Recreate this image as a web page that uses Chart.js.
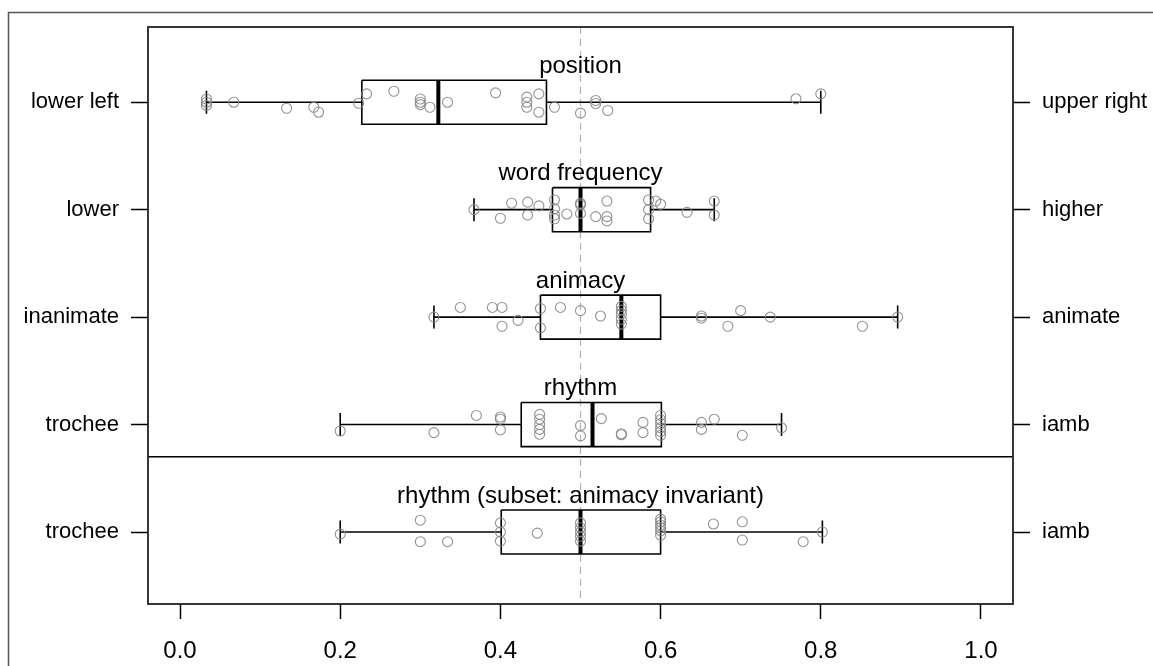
<!DOCTYPE html>
<html>
<head>
<meta charset="utf-8">
<script src="https://cdn.jsdelivr.net/npm/chart.js@4"></script>
<style>
html,body{margin:0;padding:0;background:#fff;}
#wrap{width:1153px;height:666px;position:relative;}
</style>
</head>
<body>
<div id="wrap"><canvas id="c" width="1153" height="666"></canvas></div>
<script>
// ---- data ----
const titles = ['position', 'word frequency', 'animacy', 'rhythm', 'rhythm (subset: animacy invariant)'];
const leftLabels = ['lower left', 'lower', 'inanimate', 'trochee', 'trochee'];
const rightLabels = ['upper right', 'higher', 'animate', 'iamb', 'iamb'];
const xTicks = [0.0, 0.2, 0.4, 0.6, 0.8, 1.0];
const refX = 0.5;
const separatorY = 4.3;

const whiskerLow  = [0.033, 0.367, 0.317, 0.200, 0.200];
const q1          = [0.227, 0.465, 0.450, 0.426, 0.401];
const median      = [0.3225, 0.500, 0.551, 0.515, 0.500];
const q3          = [0.4575, 0.5875, 0.600, 0.601, 0.600];
const whiskerHigh = [0.800, 0.667, 0.896, 0.751, 0.802];

const pointsPosition = [0.033,0.033,0.033,0.067,0.133,0.167,0.173,0.223,0.233,0.267,0.300,0.300,0.300,0.312,0.334,0.394,0.433,0.433,0.433,0.448,0.448,0.4675,0.500,0.519,0.519,0.534,0.769,0.800];
const jitterPosition = [-0.03,0,0.03,0,0.056,0.047,0.093,0.01,-0.078,-0.102,-0.03,0,0.022,0.047,0,-0.087,-0.047,0,0.047,-0.078,0.093,0.047,0.102,-0.016,0.012,0.077,-0.032,-0.078];

const pointsFrequency = [0.367,0.400,0.414,0.434,0.434,0.448,0.4675,0.4675,0.4675,0.4675,0.483,0.500,0.500,0.500,0.519,0.533,0.533,0.533,0.585,0.585,0.585,0.594,0.600,0.633,0.667,0.667];
const jitterFrequency = [0,0.08,-0.06,-0.07,0.05,-0.035,-0.09,-0.01,0.05,0.085,0.04,-0.06,-0.045,0.035,0.065,-0.08,0.065,0.105,-0.09,0,0.085,-0.08,-0.05,0.025,-0.08,0.05];

const pointsAnimacy = [0.317,0.350,0.390,0.402,0.402,0.422,0.450,0.450,0.475,0.500,0.525,0.551,0.551,0.551,0.551,0.551,0.651,0.651,0.684,0.700,0.737,0.852,0.896];
const jitterAnimacy = [0,-0.09,-0.09,-0.09,0.085,0.03,-0.08,0.1,-0.09,-0.06,-0.01,-0.1,-0.065,-0.03,0.02,0.065,-0.01,0.01,0.085,-0.06,0,0.085,0];

const pointsRhythm = [0.200,0.317,0.370,0.400,0.400,0.400,0.449,0.449,0.449,0.449,0.449,0.500,0.500,0.526,0.551,0.551,0.578,0.578,0.600,0.600,0.600,0.600,0.600,0.600,0.651,0.651,0.667,0.702,0.751];
const jitterRhythm = [0.06,0.075,-0.085,-0.07,-0.05,0.05,-0.095,-0.05,0,0.045,0.09,0.01,0.105,-0.055,0.085,0.095,-0.02,0.075,-0.085,-0.045,-0.01,0.03,0.065,0.1,-0.02,0.045,-0.05,0.1,0.03];

const pointsSubset = [0.200,0.300,0.300,0.334,0.400,0.400,0.400,0.446,0.500,0.500,0.500,0.500,0.500,0.600,0.600,0.600,0.600,0.600,0.600,0.666,0.702,0.702,0.778,0.802];
const jitterSubset = [0.02,-0.11,0.09,0.09,-0.085,0,0.085,0.01,-0.085,-0.04,0,0.04,0.085,-0.12,-0.095,-0.065,-0.04,-0.01,0.03,-0.075,-0.095,0.075,0.09,0];

const pointsByRow = [pointsPosition, pointsFrequency, pointsAnimacy, pointsRhythm, pointsSubset];
const jitterByRow = [jitterPosition, jitterFrequency, jitterAnimacy, jitterRhythm, jitterSubset];

// ---- styles ----
const FONT = "'Liberation Sans', Arial, sans-serif";
const BOX_HALF = 0.205;
const STAPLE_HALF = 0.107;
const X_MIN = -0.04, X_MAX = 1.04, Y_MIN = 0.3, Y_MAX = 5.67;

function lineDs(data, width, color, dash) {
  return {data, showLine: true, pointRadius: 0, pointHoverRadius: 0, borderColor: color || '#000',
    borderWidth: width, borderDash: dash || [], fill: false, tension: 0, backgroundColor: 'transparent'};
}

const datasets = [];
// points (on top)
pointsByRow.forEach((pts, i) => {
  datasets.push({
    data: pts.map((v, k) => ({x: v, y: i + 1 + jitterByRow[i][k]})),
    showLine: false, pointRadius: 5, pointHoverRadius: 5, pointStyle: 'circle',
    pointBorderColor: 'rgba(135,135,135,0.9)', pointBackgroundColor: 'rgba(0,0,0,0)', pointBorderWidth: 1.1
  });
});
// medians
median.forEach((m, i) => {
  const y = i + 1;
  datasets.push(lineDs([{x: m, y: y - BOX_HALF}, {x: m, y: y + BOX_HALF}], 4, '#000'));
});
// boxes, whiskers, staples
titles.forEach((t, i) => {
  const y = i + 1;
  datasets.push(lineDs([
    {x: q1[i], y: y - BOX_HALF}, {x: q3[i], y: y - BOX_HALF}, {x: q3[i], y: y + BOX_HALF},
    {x: q1[i], y: y + BOX_HALF}, {x: q1[i], y: y - BOX_HALF}], 1.6, '#000'));
  datasets.push(lineDs([{x: whiskerLow[i], y}, {x: q1[i], y}], 1.6, '#000'));
  datasets.push(lineDs([{x: q3[i], y}, {x: whiskerHigh[i], y}], 1.6, '#000'));
  datasets.push(lineDs([{x: whiskerLow[i], y: y - STAPLE_HALF}, {x: whiskerLow[i], y: y + STAPLE_HALF}], 1.6, '#000'));
  datasets.push(lineDs([{x: whiskerHigh[i], y: y - STAPLE_HALF}, {x: whiskerHigh[i], y: y + STAPLE_HALF}], 1.6, '#000'));
});
// separator
datasets.push(lineDs([{x: X_MIN, y: separatorY}, {x: X_MAX, y: separatorY}], 1.6, '#000'));
// reference dashed line (bottom)
datasets.push(lineDs([{x: refX, y: Y_MIN}, {x: refX, y: Y_MAX}], 1.3, '#b5b5b5', [7, 5]));

const framePlugin = {
  id: 'frame',
  beforeDraw(chart) {
    const ctx = chart.ctx;
    ctx.save();
    ctx.fillStyle = '#fff';
    ctx.fillRect(0, 0, chart.width, chart.height);
    ctx.strokeStyle = '#555';
    ctx.lineWidth = 1.5;
    ctx.beginPath();
    ctx.moveTo(8.5, chart.height);
    ctx.lineTo(8.5, 12.5);
    ctx.lineTo(chart.width, 12.5);
    ctx.stroke();
    ctx.restore();
  },
  afterDraw(chart) {
    const ctx = chart.ctx, a = chart.chartArea;
    const xs = chart.scales.x, ys = chart.scales.y;
    ctx.save();
    ctx.strokeStyle = '#222';
    ctx.lineWidth = 1.8;
    ctx.strokeRect(a.left, a.top, a.right - a.left, a.bottom - a.top);
    ctx.fillStyle = '#000';
    ctx.font = '24px ' + FONT;
    ctx.textAlign = 'center';
    ctx.textBaseline = 'middle';
    titles.forEach((t, i) => {
      ctx.fillText(t, xs.getPixelForValue(refX), ys.getPixelForValue(i + 1 - 0.335));
    });
    ctx.restore();
  }
};

const yTicksBuild = (axis) => { axis.ticks = titles.map((t, i) => ({value: i + 1})); };

new Chart(document.getElementById('c'), {
  type: 'scatter',
  data: {datasets},
  options: {
    responsive: false,
    animation: false,
    events: [],
    layout: {padding: {top: 27, left: 0, right: 0, bottom: 0}},
    plugins: {legend: {display: false}, tooltip: {enabled: false}},
    scales: {
      x: {
        type: 'linear', min: X_MIN, max: X_MAX, position: 'bottom',
        afterBuildTicks: (axis) => { axis.ticks = xTicks.map(v => ({value: v})); },
        afterFit: (s) => { s.height = 62; },
        grid: {drawOnChartArea: false, drawTicks: true, tickLength: 15, tickColor: '#000', tickWidth: 1.5},
        border: {display: false},
        ticks: {padding: 18, color: '#000', font: {family: FONT, size: 24}, maxRotation: 0,
          callback: (v) => Number(v).toFixed(1)}
      },
      y: {
        type: 'linear', min: Y_MIN, max: Y_MAX, reverse: true, position: 'left',
        afterBuildTicks: yTicksBuild,
        afterFit: (s) => { s.width = 148; },
        grid: {drawOnChartArea: false, drawTicks: true, tickLength: 17, tickColor: '#000', tickWidth: 1.5},
        border: {display: false},
        ticks: {padding: 12, color: '#000', font: {family: FONT, size: 22},
          callback: (v) => leftLabels[Math.round(v) - 1]}
      },
      y2: {
        type: 'linear', min: Y_MIN, max: Y_MAX, reverse: true, position: 'right',
        afterBuildTicks: yTicksBuild,
        afterFit: (s) => { s.width = 140; },
        grid: {drawOnChartArea: false, drawTicks: true, tickLength: 17, tickColor: '#000', tickWidth: 1.5},
        border: {display: false},
        ticks: {padding: 12, color: '#000', font: {family: FONT, size: 22},
          callback: (v) => rightLabels[Math.round(v) - 1]}
      }
    }
  },
  plugins: [framePlugin]
});
</script>
</body>
</html>
